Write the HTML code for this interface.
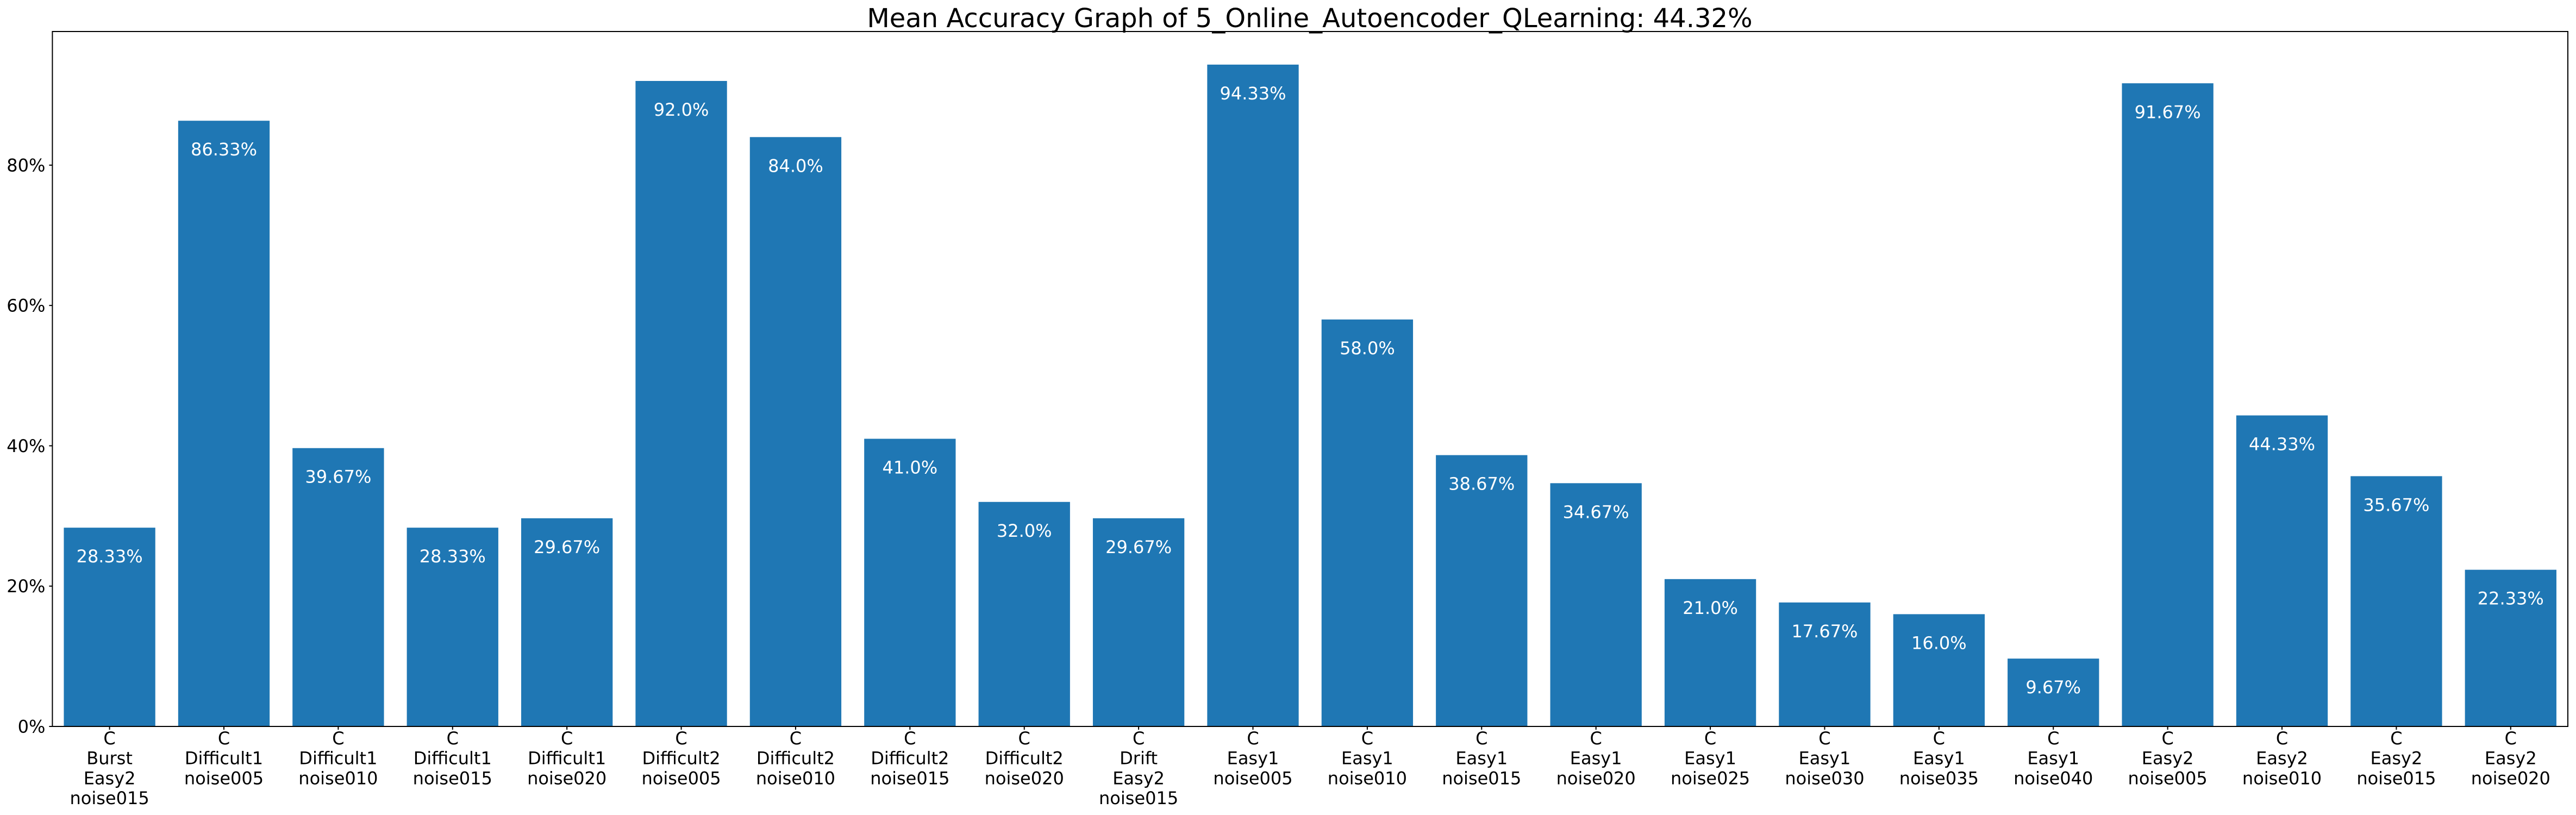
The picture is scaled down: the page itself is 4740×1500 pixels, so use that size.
<!DOCTYPE html>
<html><head><meta charset="utf-8"><style>
html,body{margin:0;padding:0;background:#fff;}
svg{display:block;font-family:"DejaVu Sans","Liberation Sans",sans-serif;}
</style></head><body>
<svg id="chart" width="4740" height="1500" viewBox="0 0 4740 1500" xmlns="http://www.w3.org/2000/svg">
<rect x="0" y="0" width="4740" height="1500" fill="#fff"/>
<text x="2410" y="50" font-size="48" text-anchor="middle" fill="#000">Mean Accuracy Graph of 5_Online_Autoencoder_QLearning: 44.32%</text>
<g id="bars"></g>
<g id="xaxis"></g>
<g id="yaxis"></g>
<rect x="96.4" y="58" width="4628.6" height="1279" fill="none" stroke="#000" stroke-width="2"/>
</svg>
<script>
const categories = [
 ["C","Burst","Easy2","noise015"],["C","Difficult1","noise005"],["C","Difficult1","noise010"],["C","Difficult1","noise015"],
 ["C","Difficult1","noise020"],["C","Difficult2","noise005"],["C","Difficult2","noise010"],["C","Difficult2","noise015"],
 ["C","Difficult2","noise020"],["C","Drift","Easy2","noise015"],["C","Easy1","noise005"],["C","Easy1","noise010"],
 ["C","Easy1","noise015"],["C","Easy1","noise020"],["C","Easy1","noise025"],["C","Easy1","noise030"],
 ["C","Easy1","noise035"],["C","Easy1","noise040"],["C","Easy2","noise005"],["C","Easy2","noise010"],
 ["C","Easy2","noise015"],["C","Easy2","noise020"]
];
const values = [28.33,86.33,39.67,28.33,29.67,92.0,84.0,41.0,32.0,29.67,94.33,58.0,38.67,34.67,21.0,17.67,16.0,9.67,91.67,44.33,35.67,22.33];
const valueLabels = ["28.33%","86.33%","39.67%","28.33%","29.67%","92.0%","84.0%","41.0%","32.0%","29.67%","94.33%","58.0%","38.67%","34.67%","21.0%","17.67%","16.0%","9.67%","91.67%","44.33%","35.67%","22.33%"];
const yTicks = [0,20,40,60,80];
const yTickLabels = ["0%","20%","40%","60%","80%"];

const NS="http://www.w3.org/2000/svg";
const L=96.4,R=4725,T=58,B=1337;
const yMax=Math.max(...values)*1.05;
const n=categories.length;
const step=(R-L)/n;
function xs(i){return L+(i+0.5)*step;}
function ys(v){return B-(v/yMax)*(B-T);}
function mk(tag,attrs,parent){const e=document.createElementNS(NS,tag);for(const k in attrs)e.setAttribute(k,attrs[k]);parent.appendChild(e);return e;}
const gb=document.getElementById('bars'),gx=document.getElementById('xaxis'),gy=document.getElementById('yaxis');
const bw=step*0.8;
values.forEach((v,i)=>{
  const r=mk('rect',{x:xs(i)-bw/2,y:ys(v),width:bw,height:B-ys(v),fill:'#1f77b4'},gb);
  
  
  const t=mk('text',{x:xs(i),y:ys(v)+64,'font-size':32,'text-anchor':'middle',fill:'#fff'},gb);
  
  
  t.textContent=valueLabels[i];
  const tk=mk('line',{x1:xs(i),x2:xs(i),y1:B,y2:B+6,stroke:'#000','stroke-width':2},gx);
  
  
  const lab=mk('text',{x:xs(i),y:1370,'font-size':32,'text-anchor':'middle',fill:'#000'},gx);
  
  
  categories[i].forEach((line,j)=>{const s=mk('tspan',{x:xs(i),dy:j===0?0:36.7},lab);s.textContent=line;});
});
yTicks.forEach((v,i)=>{
  const tk=mk('line',{x1:L-6,x2:L,y1:ys(v),y2:ys(v),stroke:'#000','stroke-width':2},gy);
  
  
  const t=mk('text',{x:L-13,y:ys(v)+11.5,'font-size':32,'text-anchor':'end',fill:'#000'},gy);
  
  
  t.textContent=yTickLabels[i];
});
</script>
</body></html>
